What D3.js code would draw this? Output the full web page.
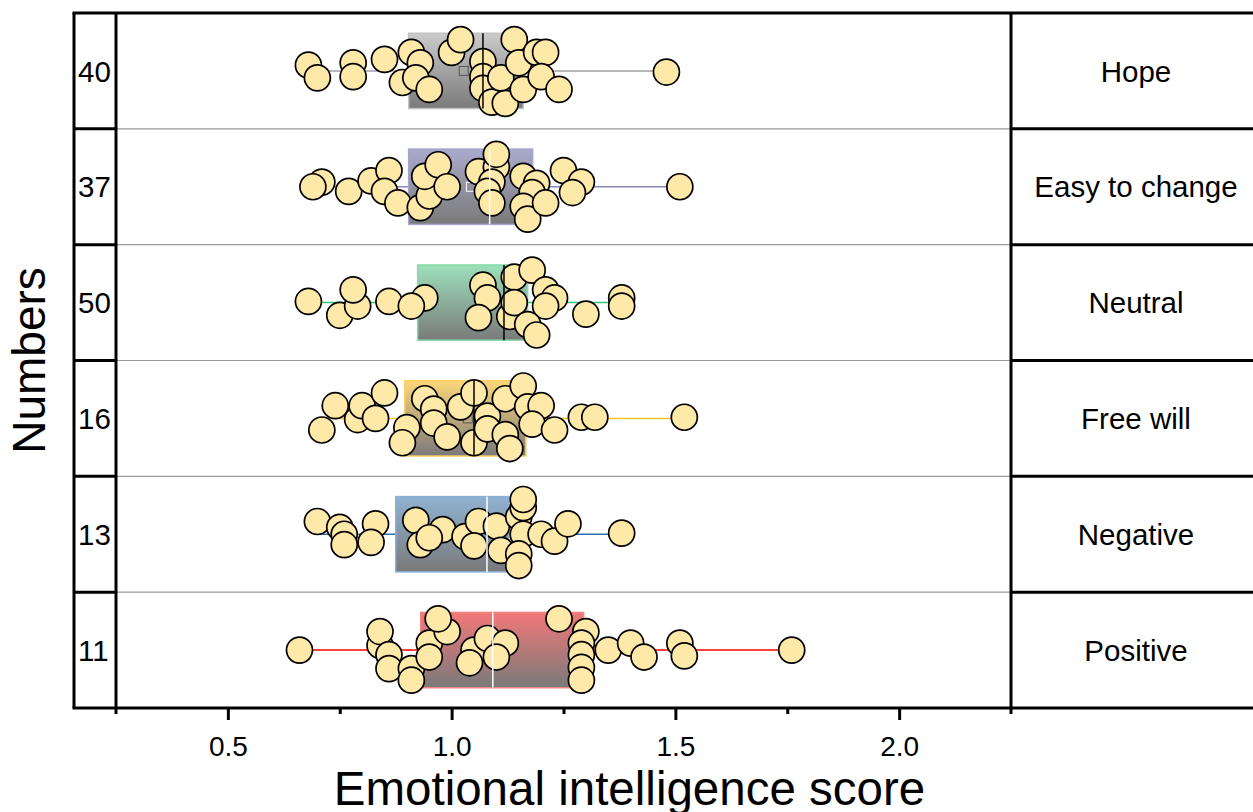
<!DOCTYPE html>
<html>
<head>
<meta charset="utf-8">
<script src="https://cdn.jsdelivr.net/npm/d3@7"></script>
<style>
  body { margin: 0; background: #fff; }
  svg { display: block; font-family: 'Liberation Sans', Arial, sans-serif; }
</style>
</head>
<body>
<div id="chart"></div>
<script>
const categories = ['Hope', 'Easy to change', 'Neutral', 'Free will', 'Negative', 'Positive'];
const counts = [40, 37, 50, 16, 13, 11];
const q1Values = [0.904, 0.904, 0.924, 0.895, 0.875, 0.931];
const medianValues = [1.070, 1.085, 1.117, 1.050, 1.079, 1.092];
const q3Values = [1.160, 1.181, 1.170, 1.166, 1.128, 1.295];
const meanValues = [1.027, 1.043, 1.075, 1.036, 1.040, 1.100];
const minValues = [0.68, 0.69, 0.68, 0.71, 0.70, 0.66];
const maxValues = [1.48, 1.51, 1.38, 1.52, 1.38, 1.76];
const xTickValues = [0.5, 1.0, 1.5, 2.0];
const xMinorTickValues = [0.75, 1.25, 1.75];

// [score, vertical jitter as a fraction of the row height]
const hopePoints = [
  [0.68, -0.05], [0.70, 0.06], [0.78, -0.07], [0.78, 0.05], [0.85, -0.10], [0.91, -0.16],
  [0.93, -0.07], [0.89, 0.10], [0.92, 0.06], [0.95, 0.16], [1.00, -0.16], [1.02, -0.27],
  [1.07, -0.08], [1.07, 0.05], [1.07, 0.15], [1.09, 0.27], [1.12, 0.28], [1.11, 0.06],
  [1.14, -0.27], [1.15, -0.07], [1.16, 0.16], [1.19, -0.16], [1.21, -0.16], [1.20, 0.05],
  [1.24, 0.16], [1.48, 0.01]
];
const easyPoints = [
  [0.71, -0.04], [0.69, 0], [0.77, 0.04], [0.82, -0.05], [0.86, -0.14], [0.85, 0.04],
  [0.88, 0.14], [0.93, 0.18], [0.95, 0.08], [0.94, -0.09], [0.97, -0.19], [0.99, 0],
  [1.06, -0.13], [1.10, -0.17], [1.10, -0.28], [1.09, -0.04], [1.08, 0.04], [1.09, 0.14],
  [1.16, -0.09], [1.19, -0.03], [1.18, 0.05], [1.16, 0.17], [1.17, 0.28], [1.21, 0.14],
  [1.25, -0.14], [1.29, -0.04], [1.27, 0.05], [1.51, 0]
];
const neutralPoints = [
  [0.68, -0.01], [0.75, 0.11], [0.79, 0.03], [0.78, -0.11], [0.86, -0.01], [0.94, -0.04],
  [0.91, 0.03], [1.07, -0.15], [1.08, -0.04], [1.06, 0.13], [1.13, 0.12], [1.14, -0.22],
  [1.18, -0.28], [1.21, -0.11], [1.23, -0.04], [1.21, 0.03], [1.14, 0], [1.17, 0.19],
  [1.19, 0.28], [1.30, 0.10], [1.38, -0.04], [1.38, 0.03]
];
const freeWillPoints = [
  [0.71, 0.10], [0.74, -0.11], [0.79, 0.01], [0.80, -0.11], [0.83, 0], [0.85, -0.22],
  [0.90, 0.08], [0.89, 0.21], [0.94, -0.17], [0.96, -0.08], [0.96, 0.04], [0.99, 0.16],
  [1.02, -0.10], [1.05, -0.22], [1.05, 0.21], [1.08, -0.02], [1.08, 0.09], [1.12, -0.17],
  [1.12, 0.14], [1.13, 0.26], [1.16, -0.28], [1.17, -0.10], [1.20, -0.11], [1.18, 0.05],
  [1.23, 0.10], [1.29, -0.01], [1.32, -0.01], [1.52, -0.01]
];
const negativePoints = [
  [0.70, -0.11], [0.75, -0.06], [0.76, 0], [0.76, 0.09], [0.83, -0.09], [0.82, 0.07],
  [0.92, -0.12], [0.93, 0.09], [0.98, -0.04], [0.95, 0.03], [1.03, 0.02], [1.06, -0.11],
  [1.05, 0.10], [1.10, -0.07], [1.11, 0.14], [1.15, -0.15], [1.16, -0.23], [1.16, -0.30],
  [1.16, 0], [1.15, 0.17], [1.15, 0.27], [1.20, 0], [1.23, 0.06], [1.26, -0.09], [1.38, -0.01]
];
const positivePoints = [
  [0.66, 0], [0.84, -0.04], [0.84, -0.16], [0.86, 0.04], [0.86, 0.16], [0.91, 0.16],
  [0.91, 0.26], [0.95, -0.06], [0.95, 0.06], [0.99, -0.16], [0.97, -0.27], [1.05, 0],
  [1.04, 0.11], [1.08, -0.10], [1.12, -0.06], [1.10, 0.06], [1.24, -0.27], [1.30, -0.16],
  [1.29, -0.06], [1.29, 0.04], [1.29, 0.15], [1.29, 0.26], [1.35, 0], [1.40, -0.06],
  [1.43, 0.06], [1.51, -0.06], [1.52, 0.05], [1.76, 0]
];
const pointsByCategory = [hopePoints, easyPoints, neutralPoints, freeWillPoints, negativePoints, positivePoints];

class BoxJitterChart {
  constructor (selector) {
    this.chartContainer = d3.select(selector);
    this.chart = null;
    this.chartWidth = 1253;
    this.chartHeight = 812;
    this.frameLeft = 74;
    this.plotLeft = 116;
    this.plotRight = 1011;
    this.plotTop = 13;
    this.plotBottom = 708;
    this.labelCenter = 1136;
    this.boxRatio = 0.65;
    this.pointRadius = 13;
    this.boxColors = ['#cbcbcb', '#aaaacd', '#9de0bb', '#fcd77a', '#90b2d2', '#f27878'];
    this.boxStrokes = ['#c2c2c2', '#a4a4cc', '#86dcaa', '#fcd062', '#8cb0d2', '#f48484'];
    this.lineColors = ['#a0a0a0', '#8888b8', '#32c474', '#fcc424', '#2f6fae', '#ff0000'];
    this.medianColors = ['#000000', '#ffffff', '#000000', '#000000', '#ffffff', '#ffffff'];
    this.xScale = null;
    this.yScale = null;
    this.jitterScale = null;
  }

  render () {
    this.createSvg();
    this.initScales();
    this.drawGradients();
    this.drawRowLines();
    this.drawBoxes();
    this.drawPoints();
    this.drawMedians();
    this.drawFrame();
    this.drawAxes();
    this.drawLabels();
  }

  createSvg () {
    this.chart = this.chartContainer
      .append('svg')
      .attr('width', this.chartWidth)
      .attr('height', this.chartHeight);
  }

  initScales () {
    this.xScale = d3.scaleLinear().domain([0.25, 2.25]).range([this.plotLeft, this.plotRight]);
    this.yScale = d3.scaleBand().domain(categories).range([this.plotTop, this.plotBottom]).padding(0);
    let band = this.yScale.bandwidth();
    this.jitterScale = d3.scaleLinear().domain([-0.5, 0.5]).range([-band / 2, band / 2]);
  }

  rowCenter (i) {
    return this.yScale(categories[i]) + this.yScale.bandwidth() / 2;
  }

  drawGradients () {
    let defs = this.chart.append('defs');

    categories.forEach((c, i) => {
      let grad = defs.append('linearGradient')
        .attr('id', 'boxFill' + i)
        .attr('x1', 0).attr('y1', 0)
        .attr('x2', 0).attr('y2', 1);
      grad.append('stop').attr('offset', '0%').attr('stop-color', this.boxColors[i]);
      grad.append('stop').attr('offset', '100%').attr('stop-color', '#7a7a7a');
    });
  }

  drawRowLines () {
    let inner = categories.slice(1);

    this.chart.append('g')
      .selectAll('line')
      .data(inner)
      .enter()
      .append('line')
      .attr('x1', this.plotLeft)
      .attr('x2', this.plotRight)
      .attr('y1', (d) => { return this.yScale(d); })
      .attr('y2', (d) => { return this.yScale(d); })
      .attr('stroke', '#9a9a9a')
      .attr('stroke-width', 1.2);
  }

  drawBoxes () {
    let boxHeight = this.yScale.bandwidth() * this.boxRatio;
    let g = this.chart.append('g').attr('class', 'c-boxes');

    categories.forEach((c, i) => {
      let cy = this.rowCenter(i);

      g.append('line')
        .attr('x1', this.xScale(minValues[i]))
        .attr('x2', this.xScale(maxValues[i]))
        .attr('y1', cy)
        .attr('y2', cy)
        .attr('stroke', this.lineColors[i])
        .attr('stroke-width', 1.5);

      g.append('rect')
        .attr('x', this.xScale(q1Values[i]))
        .attr('y', cy - boxHeight / 2)
        .attr('width', this.xScale(q3Values[i]) - this.xScale(q1Values[i]))
        .attr('height', boxHeight)
        .attr('fill', 'url(#boxFill' + i + ')')
        .attr('stroke', this.boxStrokes[i])
        .attr('stroke-width', 1.5);

      g.append('rect')
        .attr('x', this.xScale(meanValues[i]) - 4.5)
        .attr('y', cy - 4.5)
        .attr('width', 9)
        .attr('height', 9)
        .attr('fill', 'none')
        .attr('stroke', this.medianColors[i] === '#000000' ? '#555' : '#fff')
        .attr('stroke-width', 1);
    });
  }

  drawPoints () {
    let g = this.chart.append('g').attr('class', 'c-points');

    pointsByCategory.forEach((points, i) => {
      let cy = this.rowCenter(i);

      g.append('g')
        .selectAll('circle')
        .data(points)
        .enter()
        .append('circle')
        .attr('cx', (d) => { return this.xScale(d[0]); })
        .attr('cy', (d) => { return cy + this.jitterScale(d[1]); })
        .attr('r', this.pointRadius)
        .attr('fill', '#ffe9a8')
        .attr('stroke', '#000')
        .attr('stroke-width', 1.7);
    });
  }

  drawMedians () {
    let boxHeight = this.yScale.bandwidth() * this.boxRatio;

    this.chart.append('g')
      .selectAll('line')
      .data(medianValues)
      .enter()
      .append('line')
      .attr('x1', (d) => { return this.xScale(d); })
      .attr('x2', (d) => { return this.xScale(d); })
      .attr('y1', (d, i) => { return this.rowCenter(i) - boxHeight / 2; })
      .attr('y2', (d, i) => { return this.rowCenter(i) + boxHeight / 2; })
      .attr('stroke', (d, i) => { return this.medianColors[i]; })
      .attr('stroke-width', 1.5);
  }

  drawFrame () {
    let g = this.chart.append('g')
      .attr('stroke', '#000')
      .attr('stroke-width', 3)
      .attr('fill', 'none');
    let inner = categories.slice(1);

    g.append('line').attr('x1', this.frameLeft - 1.5).attr('x2', this.chartWidth)
      .attr('y1', this.plotTop).attr('y2', this.plotTop);
    g.append('line').attr('x1', this.frameLeft - 1.5).attr('x2', this.chartWidth)
      .attr('y1', this.plotBottom).attr('y2', this.plotBottom);
    g.append('line').attr('x1', this.frameLeft).attr('x2', this.frameLeft)
      .attr('y1', this.plotTop).attr('y2', this.plotBottom);
    g.append('line').attr('x1', this.plotLeft).attr('x2', this.plotLeft)
      .attr('y1', this.plotTop).attr('y2', this.plotBottom + 6);
    g.append('line').attr('x1', this.plotRight).attr('x2', this.plotRight)
      .attr('y1', this.plotTop).attr('y2', this.plotBottom + 6);

    g.selectAll('.c-left-sep')
      .data(inner)
      .enter()
      .append('line')
      .attr('class', 'c-left-sep')
      .attr('x1', this.frameLeft).attr('x2', this.plotLeft)
      .attr('y1', (d) => { return this.yScale(d); })
      .attr('y2', (d) => { return this.yScale(d); });

    g.selectAll('.c-right-sep')
      .data(inner)
      .enter()
      .append('line')
      .attr('class', 'c-right-sep')
      .attr('x1', this.plotRight).attr('x2', this.chartWidth)
      .attr('y1', (d) => { return this.yScale(d); })
      .attr('y2', (d) => { return this.yScale(d); });
  }

  drawAxes () {
    let majorAxis = d3.axisBottom(this.xScale)
      .tickValues(xTickValues)
      .tickFormat(d3.format('.1f'))
      .tickSize(12)
      .tickPadding(16);
    let minorAxis = d3.axisBottom(this.xScale)
      .tickValues(xMinorTickValues)
      .tickFormat('')
      .tickSize(6);

    let major = this.chart.append('g')
      .attr('class', 'c-axis')
      .attr('transform', 'translate(0,' + this.plotBottom + ')')
      .call(majorAxis);
    let minor = this.chart.append('g')
      .attr('class', 'c-axis')
      .attr('transform', 'translate(0,' + this.plotBottom + ')')
      .call(minorAxis);

    [major, minor].forEach((a) => {
      a.select('.domain').remove();
      a.selectAll('line').attr('stroke', '#000').attr('stroke-width', 3);
    });
    major.selectAll('text')
      .attr('font-family', "'Liberation Sans', Arial, sans-serif")
      .attr('font-size', 28)
      .attr('fill', '#000');

    this.chart.append('text')
      .attr('x', (this.xScale(0.25) + this.xScale(2.25)) / 2 + 66)
      .attr('y', 805)
      .attr('text-anchor', 'middle')
      .attr('font-size', 47.5)
      .text('Emotional intelligence score');

    this.chart.append('text')
      .attr('transform', 'translate(45,' + ((this.plotTop + this.plotBottom) / 2) + ') rotate(-90)')
      .attr('text-anchor', 'middle')
      .attr('font-size', 46)
      .text('Numbers');
  }

  drawLabels () {
    this.chart.append('g')
      .selectAll('text')
      .data(counts)
      .enter()
      .append('text')
      .attr('x', this.frameLeft + 4)
      .attr('y', (d, i) => { return this.rowCenter(i); })
      .attr('dy', '0.36em')
      .attr('font-size', 29.5)
      .text((d) => { return d; });

    this.chart.append('g')
      .selectAll('text')
      .data(categories)
      .enter()
      .append('text')
      .attr('x', this.labelCenter)
      .attr('y', (d, i) => { return this.rowCenter(i); })
      .attr('dy', '0.36em')
      .attr('text-anchor', 'middle')
      .attr('font-size', 29.5)
      .text((d) => { return d; });
  }
}

new BoxJitterChart('#chart').render();
</script>
</body>
</html>
